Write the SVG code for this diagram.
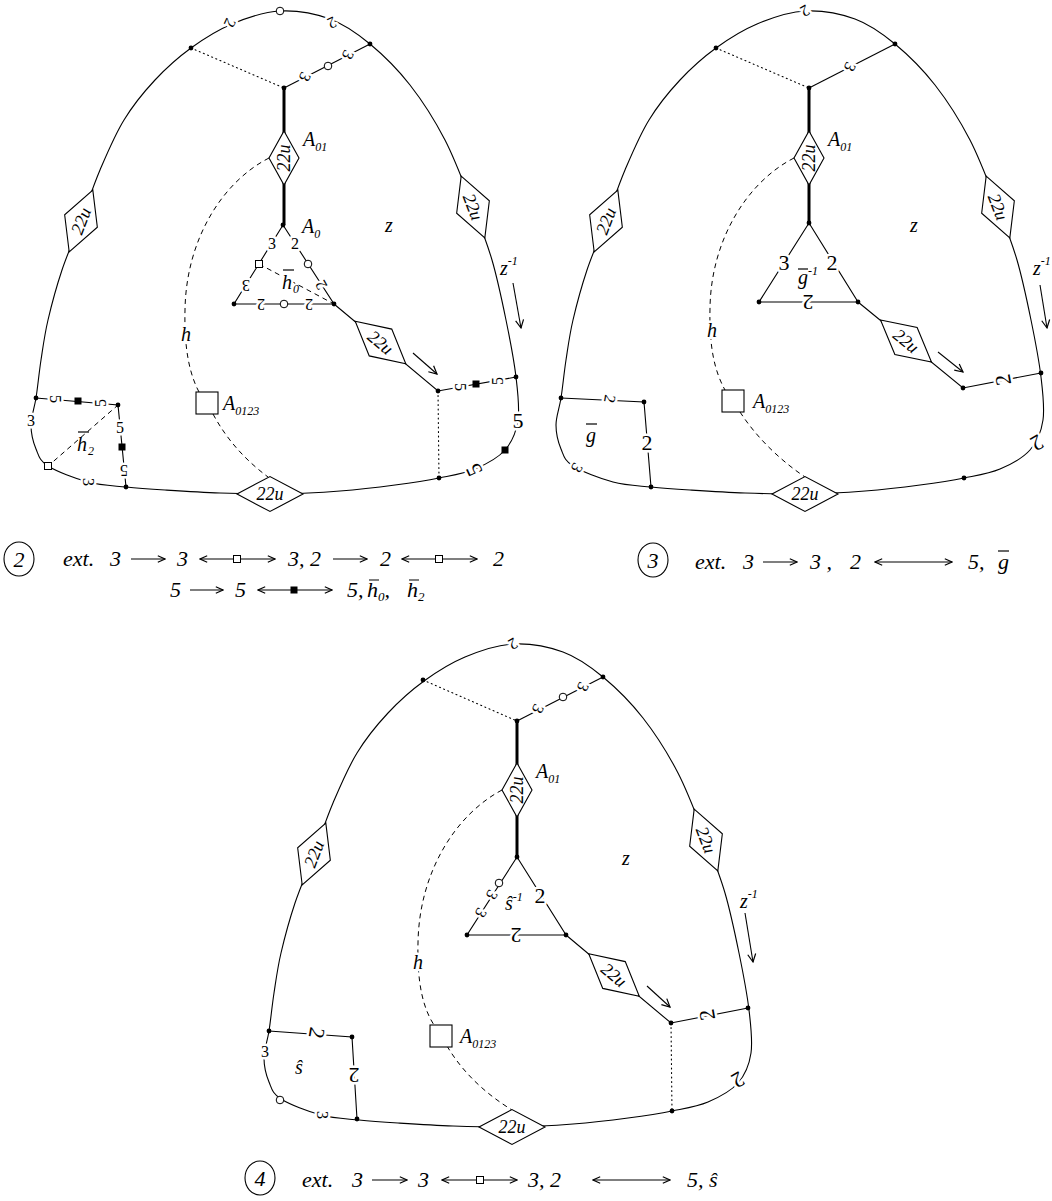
<svg xmlns="http://www.w3.org/2000/svg" width="1052" height="1201" viewBox="0 0 1052 1201">
<style>
.o{fill:none;stroke:#000;stroke-width:1.1}
.tk{fill:none;stroke:#000;stroke-width:3}
.ds{fill:none;stroke:#000;stroke-width:1;stroke-dasharray:5 4}
.dt{fill:none;stroke:#000;stroke-width:1.1;stroke-dasharray:1 3.5;stroke-linecap:round}
.dm{fill:#fff;stroke:#000;stroke-width:1.1}
.pt{fill:#000}
.oc{fill:#fff;stroke:#000;stroke-width:1}
.fs{fill:#000}
.el{font-family:"Liberation Serif","Times New Roman",serif;font-size:16px;text-anchor:middle;dominant-baseline:central;paint-order:stroke;stroke:#fff;stroke-width:5px;stroke-linejoin:round;fill:#000}
.big{font-size:22px}
.dl{font-family:"Liberation Serif","Times New Roman",serif;font-style:italic;font-size:18px;text-anchor:middle;dominant-baseline:central}
.lb{font-family:"Liberation Serif","Times New Roman",serif;font-style:italic;font-size:20px}
.hl{paint-order:stroke;stroke:#fff;stroke-width:5px;stroke-linejoin:round}
.sb{font-size:12px}
.lg{font-family:"Liberation Serif","Times New Roman",serif;font-style:italic;font-size:22px}
.bar{stroke:#000;stroke-width:1.2;fill:none}
</style>
<defs>
<path id="outer" d="M280,11 C296.3,10.2 315,13.5 330,19 C345,24.5 356.7,33 370,44 C383.3,55 397.5,69 410,85 C422.5,101 434.5,119.7 445,140 C455.5,160.3 465.2,187 473,207 C480.8,227 486.5,241.2 492,260 C497.5,278.8 502,300.5 506,320 C510,339.5 514,360.3 516,377 C518,393.7 519.8,407.8 518,420 C516.2,432.2 512.2,441.8 505,450 C497.8,458.2 486,464.3 475,469 C464,473.7 452.3,475.3 439,478 C425.7,480.7 411.5,482.8 395,485 C378.5,487.2 359.2,489.5 340,491 C320.8,492.5 300,493.7 280,494 C260,494.3 239.2,493.7 220,493 C200.8,492.3 180.7,491 165,490 C149.3,489 138.8,488.3 126,487 C113.2,485.7 101,485.5 88,482 C75,478.5 56.7,471.5 48,466 C39.3,460.5 38.8,455.8 36,449 C33.2,442.2 31,433.5 31,425 C31,416.5 34.3,408.8 36,398 C37.7,387.2 39,373 41,360 C43,347 44.5,335 48,320 C51.5,305 56.5,286.5 62,270 C67.5,253.5 74.7,237.7 81,221 C87.3,204.3 92.8,186.8 100,170 C107.2,153.2 114.8,135 124,120 C133.2,105 143.8,92 155,80 C166.2,68 178.2,57.3 191,48 C203.8,38.7 217.2,30.2 232,24 C246.8,17.8 263.7,11.8 280,11 Z"/>
<marker id="ah" viewBox="0 0 10 10" refX="9" refY="5" markerWidth="10" markerHeight="10" markerUnits="userSpaceOnUse" orient="auto-start-reverse"><path d="M1,1 L9,5 L1,9" fill="none" stroke="#000" stroke-width="1.2"/></marker>
<marker id="ahs" viewBox="0 0 10 10" refX="9" refY="5" markerWidth="9" markerHeight="9" markerUnits="userSpaceOnUse" orient="auto-start-reverse"><path d="M1,1.5 L9,5 L1,8.5" fill="none" stroke="#000" stroke-width="1.2"/></marker>
<polygon id="dmd" points="-33,0 0,-17.5 33,0 0,17.5"/>
<polygon id="dmdA" points="-27,0 0,-15 27,0 0,15"/>
<rect id="sq" x="-3.5" y="-3.5" width="7" height="7"/>
</defs>
<rect width="1052" height="1201" fill="#fff"/>

<!-- ================= Diagram 2 (left top) ================= -->
<g id="d2">
<g id="d2-connectors">
<use href="#outer" class="o"/>
<path class="dt" d="M191,48 L284,88"/>
<path class="o" d="M284,88 L370,44"/>
<path class="tk" d="M284,88 L284,225"/>
<path class="o" d="M283,225 L234,304 L334,304 Z"/>
<path class="ds" d="M259,264 L334,304"/>
<path class="o" d="M334,304 L438,391 L516,377"/>
<path class="dt" d="M438,391 L439,478"/>
<path class="o" d="M36,398 L118,405 L126,487"/>
<path class="ds" d="M47,467 L118,405"/>
<path class="ds" d="M269,158 C222,182 186,240 185,310 C184,350 190,375 199,392"/>
<path class="ds" d="M213,414 C228,442 248,462 268,477"/>
<path class="o" marker-end="url(#ah)" d="M413,353 L437,374"/>
<path class="o" marker-end="url(#ah)" d="M513,283 L521,328"/>
</g>
<g id="d2-A01"><use href="#dmdA" class="dm" transform="translate(284,158) rotate(90)"/><text class="dl" transform="translate(284,158) rotate(-90)" font-size="16">22u</text></g>
<g id="d2-D-in"><use href="#dmd" class="dm" transform="translate(380.5,342.5) rotate(40)"/><text class="dl" transform="translate(380.5,342.5) rotate(40)">22u</text></g>
<g id="d2-D-left"><use href="#dmd" class="dm" transform="translate(81,221) rotate(-69)"/><text class="dl" transform="translate(81,221) rotate(-69)">22u</text></g>
<g id="d2-D-right"><use href="#dmd" class="dm" transform="translate(473,207) rotate(69)"/><text class="dl" transform="translate(473,207) rotate(69)">22u</text></g>
<g id="d2-D-bottom"><use href="#dmd" class="dm" transform="translate(270,494)"/><text class="dl" x="270" y="494">22u</text></g>
<g id="d2-A0123"><rect class="dm" x="196" y="392" width="22" height="22"/><text class="lb" x="223" y="410">A<tspan class="sb" dy="5">0123</tspan></text></g>
<g id="d2-points">
<circle class="pt" cx="191" cy="48" r="2.4"/><circle class="pt" cx="370" cy="44" r="2.4"/><circle class="pt" cx="284" cy="88" r="2.4"/>
<circle class="pt" cx="283" cy="225" r="2.4"/><circle class="pt" cx="234" cy="304" r="2.4"/><circle class="pt" cx="334" cy="304" r="2.4"/>
<circle class="pt" cx="438" cy="391" r="2.4"/><circle class="pt" cx="516" cy="377" r="2.4"/><circle class="pt" cx="439" cy="478" r="2.4"/>
<circle class="pt" cx="36" cy="398" r="2.4"/><circle class="pt" cx="118" cy="405" r="2.4"/><circle class="pt" cx="126" cy="487" r="2.4"/>
</g>
<g id="d2-labels">
<text class="el" x="230" y="23" transform="rotate(115 230 23)">2</text>
<text class="el" x="332" y="23" transform="rotate(155 332 23)">2</text>
<text class="el" x="305" y="77" transform="rotate(115 305 77)">3</text>
<text class="el" x="348" y="55" transform="rotate(115 348 55)">3</text>
<text class="el" x="272" y="243">3</text>
<text class="el" x="246" y="285" transform="rotate(180 246 285)">3</text>
<text class="el" x="295" y="243">2</text>
<text class="el" x="321" y="285" transform="rotate(-120 321 285)">2</text>
<text class="el" x="261" y="304" transform="rotate(180 261 304)">2</text>
<text class="el" x="309" y="304" transform="rotate(180 309 304)">2</text>
<text class="el" x="460" y="387" transform="rotate(90 460 387)">5</text>
<text class="el" x="497" y="381" transform="rotate(-90 497 381)">5</text>
<text class="el big" x="518" y="420">5</text>
<text class="el big" x="474" y="470" transform="rotate(-115 474 470)">5</text>
<text class="el" x="31" y="420">3</text>
<text class="el" x="88" y="482" transform="rotate(90 88 482)">3</text>
<text class="el" x="55" y="399" transform="rotate(90 55 399)">5</text>
<text class="el" x="100" y="403" transform="rotate(-90 100 403)">5</text>
<text class="el" x="120" y="427">5</text>
<text class="el" x="124" y="470" transform="rotate(180 124 470)">5</text>
</g>
<g id="d2-marks">
<circle class="oc" cx="280" cy="11" r="3.8"/><circle class="oc" cx="328" cy="66" r="3.8"/><circle class="oc" cx="308" cy="264" r="3.8"/><circle class="oc" cx="284" cy="304" r="3.8"/>
<use href="#sq" class="oc" x="259" y="264"/><use href="#sq" class="oc" x="48" y="466"/>
<use href="#sq" class="fs" x="476" y="384"/><use href="#sq" class="fs" x="505" y="450"/><use href="#sq" class="fs" x="78" y="401"/><use href="#sq" class="fs" x="122" y="447"/>
</g>
<g id="d2-names">
<text class="lb" x="303" y="146">A<tspan class="sb" dy="5">01</tspan></text>
<text class="lb" x="302" y="233">A<tspan class="sb" dy="5">0</tspan></text>
<text class="lb" x="385" y="232">z</text>
<text class="lb" x="500" y="275">z<tspan class="sb" dy="-10">-1</tspan></text>
<text class="lb hl" x="181" y="341">h</text>
<text class="lb hl" x="282" y="289">h</text><path class="bar" d="M283,270 H294"/><text class="lb sb" x="293" y="293">0</text>
<text class="lb" x="77" y="451">h</text><path class="bar" d="M78,432 H89"/><text class="lb sb" x="88" y="455">2</text>
</g>
</g>

<!-- ================= Diagram 3 (right top) ================= -->
<g id="d3" transform="translate(525,0)">
<g id="d3-connectors">
<use href="#outer" class="o"/>
<path class="dt" d="M191,48 L284,88"/>
<path class="o" d="M284,88 L370,44"/>
<path class="tk" d="M284,88 L284,223"/>
<path class="o" d="M284,223 L234,302 L333,302 Z"/>
<path class="o" d="M333,302 L438,388 L516,373"/>
<path class="o" d="M36,398 L119,402 L126,487"/>
<path class="ds" d="M269,158 C222,182 186,240 185,308 C184,348 190,372 200,390"/>
<path class="ds" d="M215,412 C232,438 255,460 280,477"/>
<path class="o" marker-end="url(#ah)" d="M413,352 L438,372"/>
<path class="o" marker-end="url(#ah)" d="M515,285 L522,328"/>
</g>
<g id="d3-A01"><use href="#dmdA" class="dm" transform="translate(284,158) rotate(90)"/><text class="dl" transform="translate(284,158) rotate(-90)" font-size="16">22u</text></g>
<g id="d3-D-in"><use href="#dmd" class="dm" transform="translate(381,341) rotate(39.5)"/><text class="dl" transform="translate(381,341) rotate(39.5)">22u</text></g>
<g id="d3-D-left"><use href="#dmd" class="dm" transform="translate(81,221) rotate(-69)"/><text class="dl" transform="translate(81,221) rotate(-69)">22u</text></g>
<g id="d3-D-right"><use href="#dmd" class="dm" transform="translate(473,207) rotate(69)"/><text class="dl" transform="translate(473,207) rotate(69)">22u</text></g>
<g id="d3-D-bottom"><use href="#dmd" class="dm" transform="translate(280,494)"/><text class="dl" x="280" y="494">22u</text></g>
<g id="d3-A0123"><rect class="dm" x="197" y="390" width="22" height="22"/><text class="lb" x="228" y="408">A<tspan class="sb" dy="5">0123</tspan></text></g>
<g id="d3-points">
<circle class="pt" cx="191" cy="48" r="2.4"/><circle class="pt" cx="370" cy="44" r="2.4"/><circle class="pt" cx="284" cy="88" r="2.4"/>
<circle class="pt" cx="284" cy="223" r="2.4"/><circle class="pt" cx="234" cy="302" r="2.4"/><circle class="pt" cx="333" cy="302" r="2.4"/>
<circle class="pt" cx="438" cy="388" r="2.4"/><circle class="pt" cx="516" cy="373" r="2.4"/><circle class="pt" cx="439" cy="478" r="2.4"/>
<circle class="pt" cx="36" cy="398" r="2.4"/><circle class="pt" cx="119" cy="402" r="2.4"/><circle class="pt" cx="126" cy="487" r="2.4"/>
</g>
<g id="d3-labels">
<text class="el" x="280" y="11" transform="rotate(150 280 11)">2</text>
<text class="el" x="325" y="67" transform="rotate(115 325 67)">3</text>
<text class="el big" x="259" y="262">3</text>
<text class="el big" x="307" y="262" font-size="26">2</text>
<text class="el big" x="283" y="302" transform="rotate(180 283 302)">2</text>
<text class="el big" x="478" y="380" transform="rotate(-100 478 380)">2</text>
<text class="el big" x="512" y="443" transform="rotate(150 512 443)">2</text>
<text class="el" x="85" y="399" transform="rotate(100 85 399)">2</text>
<text class="el big" x="122" y="442">2</text>
<text class="el" x="52" y="468" transform="rotate(120 52 468)">3</text>
</g>
<g id="d3-names">
<text class="lb" x="303" y="146">A<tspan class="sb" dy="5">01</tspan></text>
<text class="lb" x="385" y="232">z</text>
<text class="lb" x="508" y="275">z<tspan class="sb" dy="-10">-1</tspan></text>
<text class="lb hl" x="182" y="337">h</text>
<text class="lb" x="273" y="284" font-style="normal">g<tspan class="sb" font-style="italic" dy="-9">-1</tspan></text><path class="bar" d="M273,269 H283"/>
<text class="lb" x="61" y="442" font-size="22" font-style="normal">g</text><path class="bar" d="M61,424 H72"/>
</g>
</g>

<!-- ================= Diagram 4 (bottom) ================= -->
<g id="d4" transform="translate(233,633)">
<g id="d4-connectors">
<use href="#outer" class="o"/>
<path class="dt" d="M190,47 L284,88"/>
<path class="o" d="M284,88 L370,44"/>
<path class="tk" d="M284,88 L284,224"/>
<path class="o" d="M284,224 L234,302 L333,302 Z"/>
<path class="o" d="M333,302 L438,390 L515,375"/>
<path class="dt" d="M438,390 L439,478"/>
<path class="o" d="M36,398 L119,404 L124,486"/>
<path class="ds" d="M269,157 C222,182 186,240 185,310 C184,350 190,375 201,392"/>
<path class="ds" d="M214,413 C230,440 253,461 279,477"/>
<path class="o" marker-end="url(#ah)" d="M414,353 L437,374"/>
<path class="o" marker-end="url(#ah)" d="M512,280 L520,329"/>
</g>
<g id="d4-A01"><use href="#dmdA" class="dm" transform="translate(284,157) rotate(90)"/><text class="dl" transform="translate(284,157) rotate(-90)" font-size="16">22u</text></g>
<g id="d4-D-in"><use href="#dmd" class="dm" transform="translate(381,342) rotate(40)"/><text class="dl" transform="translate(381,342) rotate(40)">22u</text></g>
<g id="d4-D-left"><use href="#dmd" class="dm" transform="translate(81,221) rotate(-69)"/><text class="dl" transform="translate(81,221) rotate(-69)">22u</text></g>
<g id="d4-D-right"><use href="#dmd" class="dm" transform="translate(473,207) rotate(69)"/><text class="dl" transform="translate(473,207) rotate(69)">22u</text></g>
<g id="d4-D-bottom"><use href="#dmd" class="dm" transform="translate(279,494)"/><text class="dl" x="279" y="494">22u</text></g>
<g id="d4-A0123"><rect class="dm" x="197" y="392" width="22" height="22"/><text class="lb" x="227" y="410">A<tspan class="sb" dy="5">0123</tspan></text></g>
<g id="d4-points">
<circle class="pt" cx="190" cy="47" r="2.4"/><circle class="pt" cx="370" cy="44" r="2.4"/><circle class="pt" cx="284" cy="88" r="2.4"/>
<circle class="pt" cx="284" cy="224" r="2.4"/><circle class="pt" cx="234" cy="302" r="2.4"/><circle class="pt" cx="333" cy="302" r="2.4"/>
<circle class="pt" cx="438" cy="390" r="2.4"/><circle class="pt" cx="515" cy="375" r="2.4"/><circle class="pt" cx="439" cy="478" r="2.4"/>
<circle class="pt" cx="36" cy="398" r="2.4"/><circle class="pt" cx="119" cy="404" r="2.4"/><circle class="pt" cx="124" cy="486" r="2.4"/>
</g>
<g id="d4-labels">
<text class="el" x="280" y="11" transform="rotate(150 280 11)">2</text>
<text class="el" x="305" y="76" transform="rotate(115 305 76)">3</text>
<text class="el" x="350" y="54" transform="rotate(115 350 54)">3</text>
<text class="el" x="248" y="280" transform="rotate(120 248 280)">3</text>
<text class="el" x="259" y="262" transform="rotate(120 259 262)">3</text>
<text class="el big" x="307" y="262" font-size="26">2</text>
<text class="el big" x="283" y="302" transform="rotate(180 283 302)">2</text>
<text class="el big" x="474" y="382" transform="rotate(-100 474 382)">2</text>
<text class="el big" x="505" y="447" transform="rotate(150 505 447)">2</text>
<text class="el big" x="84" y="400" transform="rotate(100 84 400)">2</text>
<text class="el big" x="121" y="442" transform="rotate(180 121 442)">2</text>
<text class="el" x="32" y="418">3</text>
<text class="el" x="89" y="482" transform="rotate(90 89 482)">3</text>
</g>
<g id="d4-marks">
<circle class="oc" cx="330" cy="64" r="3.8"/><circle class="oc" cx="266" cy="250" r="3.8"/><circle class="oc" cx="47" cy="467" r="3.8"/>
</g>
<g id="d4-names">
<text class="lb" x="303" y="145">A<tspan class="sb" dy="5">01</tspan></text>
<text class="lb" x="389" y="232">z</text>
<text class="lb" x="507" y="275">z<tspan class="sb" dy="-10">-1</tspan></text>
<text class="lb hl" x="180" y="336">h</text>
<text class="lb" x="272" y="277">ŝ<tspan class="sb" dy="-9">-1</tspan></text>
<text class="lb" x="62" y="441">ŝ</text>
</g>
</g>

<!-- ================= Legends ================= -->
<g id="legend2">
<ellipse cx="19" cy="559" rx="15" ry="17" class="o"/>
<text class="lg" x="19" y="567" text-anchor="middle">2</text>
<text class="lg" x="63" y="566">ext.</text>
<text class="lg" x="110" y="566">3</text>
<path class="o" marker-end="url(#ahs)" d="M131,559 H165"/>
<text class="lg" x="177" y="566">3</text>
<path class="o" marker-start="url(#ahs)" marker-end="url(#ahs)" d="M200,559 H275"/><use href="#sq" class="oc" x="237" y="559"/>
<text class="lg" x="288" y="566">3, 2</text>
<path class="o" marker-end="url(#ahs)" d="M333,559 H367"/>
<text class="lg" x="380" y="566">2</text>
<path class="o" marker-start="url(#ahs)" marker-end="url(#ahs)" d="M402,559 H477"/><use href="#sq" class="oc" x="439" y="559"/>
<text class="lg" x="493" y="566">2</text>
<text class="lg" x="170" y="597">5</text>
<path class="o" marker-end="url(#ahs)" d="M190,590 H223"/>
<text class="lg" x="235" y="597">5</text>
<path class="o" marker-start="url(#ahs)" marker-end="url(#ahs)" d="M258,590 H332"/><use href="#sq" class="fs" x="294" y="590"/>
<text class="lg" x="347" y="597">5, <tspan x="367">h</tspan><tspan font-size="13" dy="4">0</tspan><tspan dy="-4">, </tspan><tspan x="407">h</tspan><tspan font-size="13" dy="4">2</tspan></text>
<path class="bar" d="M369,580 H379 M409,580 H419"/>
</g>
<g id="legend3">
<ellipse cx="653" cy="560" rx="15" ry="17" class="o"/>
<text class="lg" x="653" y="568" text-anchor="middle">3</text>
<text class="lg" x="695" y="569">ext.</text>
<text class="lg" x="743" y="569">3</text>
<path class="o" marker-end="url(#ahs)" d="M763,562 H797"/>
<text class="lg" x="810" y="569">3 ,</text>
<text class="lg" x="850" y="569">2</text>
<path class="o" marker-start="url(#ahs)" marker-end="url(#ahs)" d="M875,562 H952"/>
<text class="lg" x="968" y="569">5,</text>
<text class="lg" x="998" y="569" font-style="normal">g</text><path class="bar" d="M998,551 H1009"/>
</g>
<g id="legend4">
<ellipse cx="260" cy="1178" rx="15" ry="17" class="o"/>
<text class="lg" x="260" y="1186" text-anchor="middle">4</text>
<text class="lg" x="302" y="1187">ext.</text>
<text class="lg" x="352" y="1187">3</text>
<path class="o" marker-end="url(#ahs)" d="M372,1180 H407"/>
<text class="lg" x="418" y="1187">3</text>
<path class="o" marker-start="url(#ahs)" marker-end="url(#ahs)" d="M442,1180 H517"/><use href="#sq" class="oc" x="480" y="1180"/>
<text class="lg" x="528" y="1187">3,  2</text>
<path class="o" marker-start="url(#ahs)" marker-end="url(#ahs)" d="M593,1180 H670"/>
<text class="lg" x="687" y="1187">5,  ŝ</text>
</g>
</svg>
